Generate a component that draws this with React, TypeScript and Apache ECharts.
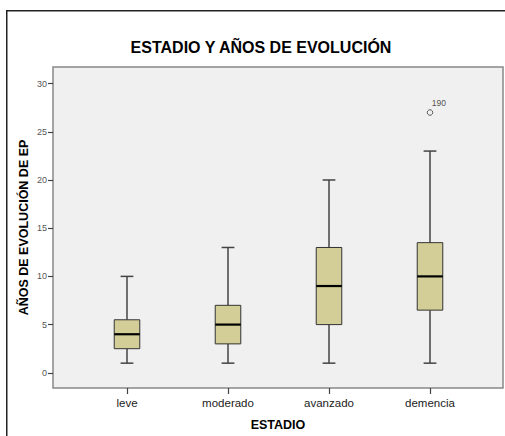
import React, { useEffect, useRef } from "react";
import * as echarts from "echarts";

const categories = ["leve", "moderado", "avanzado", "demencia"];
const whiskerLow = [1, 1, 1, 1];
const q1 = [2.5, 3, 5, 6.5];
const median = [4, 5, 9, 10];
const q3 = [5.5, 7, 13, 13.5];
const whiskerHigh = [10, 13, 20, 23];
const outliers = [{ cat: 3, value: 27, label: "190" }];
const yTicks = [0, 5, 10, 15, 20, 25, 30];

const FONT = "'Liberation Sans', Arial, sans-serif";

export default function App() {
  const ref = useRef<HTMLDivElement>(null);
  useEffect(() => {
    document.body.style.margin = "0";
    const chart = echarts.init(ref.current!, null, { renderer: "svg" });
    const boxData = categories.map((_, i) => [i, whiskerLow[i], q1[i], median[i], q3[i], whiskerHigh[i]]);
    chart.setOption({
      animation: false,
      backgroundColor: "#ffffff",
      textStyle: { fontFamily: FONT },
      title: {
        text: "ESTADIO Y AÑOS DE EVOLUCIÓN",
        left: 256,
        top: 34,
        textAlign: "center",
        textStyle: { fontSize: 16, fontWeight: "bold", color: "#000", fontFamily: FONT },
      },
      graphic: [
        {
          type: "polyline",
          shape: { points: [[6.75, 436], [6.75, 10.75], [505, 10.75]] },
          style: { stroke: "#222", lineWidth: 1.5, fill: null },
          silent: true,
        },
      ],
      grid: {
        left: 53,
        right: 2,
        top: 67,
        bottom: 46,
        show: true,
        backgroundColor: "#f0f0f0",
        borderColor: "#888",
        borderWidth: 1.5,
      },
      xAxis: {
        type: "value",
        min: -0.7327,
        max: 3.7228,
        axisLine: { show: false, onZero: false },
        splitLine: { show: false },
        axisTick: { show: true, length: 6, customValues: [0, 1, 2, 3], lineStyle: { color: "#444", width: 1.2 } },
        axisLabel: {
          customValues: [0, 1, 2, 3],
          formatter: (v: number) => categories[Math.round(v)] ?? "",
          fontSize: 11.5,
          color: "#222",
          margin: 9,
          fontFamily: FONT,
        },
        name: "ESTADIO",
        nameLocation: "middle",
        nameGap: 30,
        nameMoveOverlap: false,
        nameTextStyle: { fontSize: 12.5, fontWeight: "bold", color: "#000", fontFamily: FONT },
      },
      yAxis: {
        type: "value",
        min: -1.577,
        max: 31.72,
        axisLine: { show: false, onZero: false },
        splitLine: { show: false },
        axisTick: { show: true, length: 5, customValues: yTicks, lineStyle: { color: "#444", width: 1.2 } },
        axisLabel: {
          customValues: yTicks,
          fontSize: 9,
          color: "#555",
          margin: 6,
          fontFamily: FONT,
        },
        name: "AÑOS DE EVOLUCIÓN DE EP",
        nameLocation: "middle",
        nameGap: 23,
        nameMoveOverlap: false,
        nameTextStyle: { fontSize: 12.5, fontWeight: "bold", color: "#000", fontFamily: FONT },
      },
      series: [
        {
          type: "custom",
          data: boxData,
          encode: { x: 0, y: [1, 2, 3, 4, 5] },
          renderItem: (params: any, api: any) => {
            const x = api.value(0);
            const lo = api.coord([x, api.value(1)]);
            const b1 = api.coord([x, api.value(2)]);
            const md = api.coord([x, api.value(3)]);
            const b3 = api.coord([x, api.value(4)]);
            const hi = api.coord([x, api.value(5)]);
            const bw = api.size([0.253, 0])[0];
            const cw = bw / 2;
            const cx = lo[0];
            const wStyle = { stroke: "#444", lineWidth: 1.5 };
            return {
              type: "group",
              children: [
                { type: "line", shape: { x1: cx, y1: hi[1], x2: cx, y2: b3[1] }, style: wStyle },
                { type: "line", shape: { x1: cx, y1: b1[1], x2: cx, y2: lo[1] }, style: wStyle },
                { type: "line", shape: { x1: cx - cw / 2, y1: hi[1], x2: cx + cw / 2, y2: hi[1] }, style: wStyle },
                { type: "line", shape: { x1: cx - cw / 2, y1: lo[1], x2: cx + cw / 2, y2: lo[1] }, style: wStyle },
                {
                  type: "rect",
                  shape: { x: cx - bw / 2, y: b3[1], width: bw, height: b1[1] - b3[1] },
                  style: { fill: "#d3ce97", stroke: "#333", lineWidth: 1 },
                },
                { type: "line", shape: { x1: cx - bw / 2, y1: md[1], x2: cx + bw / 2, y2: md[1] }, style: { stroke: "#000", lineWidth: 2.2 } },
              ],
            };
          },
        },
        {
          type: "scatter",
          data: outliers.map((o) => ({ value: [o.cat, o.value], name: o.label })),
          symbol: "circle",
          symbolSize: 5.5,
          itemStyle: { color: "transparent", borderColor: "#333", borderWidth: 1 },
          label: {
            show: true,
            formatter: (p: any) => p.name,
            position: [5, -11],
            fontSize: 8.5,
            color: "#222",
            fontFamily: FONT,
          },
        },
      ],
    });
    return () => chart.dispose();
  }, []);
  return <div ref={ref} style={{ position: "absolute", left: 0, top: 0, width: 505, height: 436 }} />;
}
